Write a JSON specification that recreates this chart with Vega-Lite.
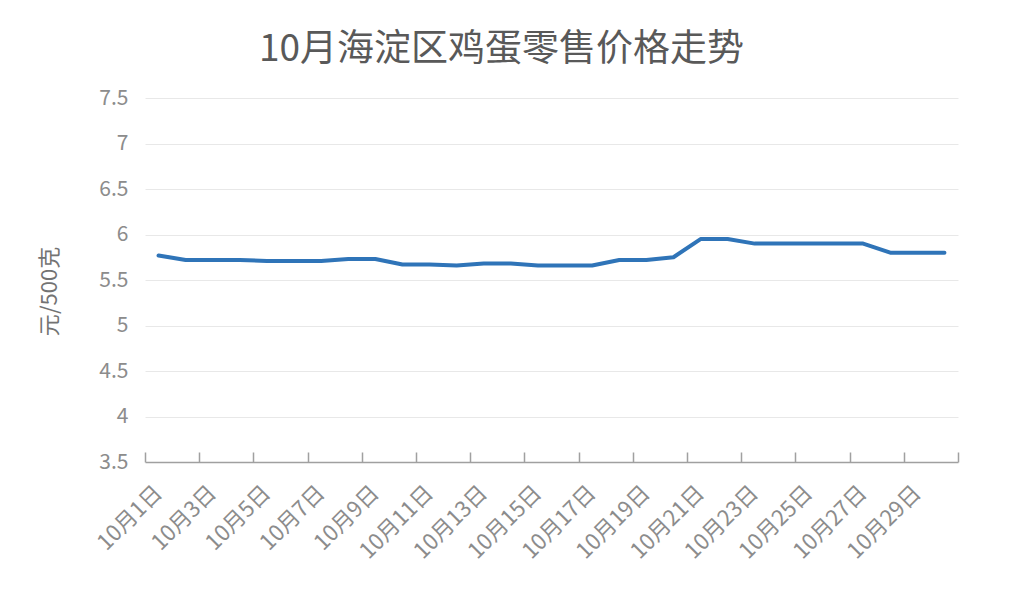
{
  "$schema": "https://vega.github.io/schema/vega-lite/v6.json",
  "autosize": "none",
  "width": 813,
  "height": 364,
  "padding": {"left": 145, "top": 98, "right": 57, "bottom": 131},
  "background": "white",
  "config": {
    "font": "Noto Sans CJK SC",
    "view": {"stroke": null}
  },
  "title": {
    "text": "10月海淀区鸡蛋零售价格走势",
    "fontSize": 37,
    "fontWeight": "normal",
    "color": "#595959",
    "anchor": "middle",
    "baseline": "middle",
    "dx": -50,
    "offset": 0
  },
  "data": {
    "values": [
      {"day": 1, "price": 5.77},
      {"day": 2, "price": 5.72},
      {"day": 3, "price": 5.72},
      {"day": 4, "price": 5.72},
      {"day": 5, "price": 5.71},
      {"day": 6, "price": 5.71},
      {"day": 7, "price": 5.71},
      {"day": 8, "price": 5.73},
      {"day": 9, "price": 5.73},
      {"day": 10, "price": 5.67},
      {"day": 11, "price": 5.67},
      {"day": 12, "price": 5.66},
      {"day": 13, "price": 5.68},
      {"day": 14, "price": 5.68},
      {"day": 15, "price": 5.66},
      {"day": 16, "price": 5.66},
      {"day": 17, "price": 5.66},
      {"day": 18, "price": 5.72},
      {"day": 19, "price": 5.72},
      {"day": 20, "price": 5.75},
      {"day": 21, "price": 5.95},
      {"day": 22, "price": 5.95},
      {"day": 23, "price": 5.9},
      {"day": 24, "price": 5.9},
      {"day": 25, "price": 5.9},
      {"day": 26, "price": 5.9},
      {"day": 27, "price": 5.9},
      {"day": 28, "price": 5.8},
      {"day": 29, "price": 5.8},
      {"day": 30, "price": 5.8}
    ]
  },
  "mark": {"type": "line", "color": "#2f74b8", "strokeWidth": 4, "strokeJoin": "round", "strokeCap": "round"},
  "encoding": {
    "x": {
      "field": "day",
      "type": "quantitative",
      "scale": {"domain": [0.5, 30.5], "nice": false, "zero": false},
      "axis": {
        "title": null,
        "values": [0.5, 2.5, 4.5, 6.5, 8.5, 10.5, 12.5, 14.5, 16.5, 18.5, 20.5, 22.5, 24.5, 26.5, 28.5, 30.5],
        "labelExpr": "datum.value < 30 ? '10月' + (datum.value + 0.5) + '日' : ''",
        "labelAngle": -45,
        "labelAlign": "right",
        "labelBaseline": "middle",
        "labelOffset": 13,
        "labelFontSize": 22,
        "labelColor": "#8c8c8c",
        "labelPadding": 27,
        "labelOverlap": false,
        "labelBound": false,
        "labelFlush": false,
        "ticks": false,
        "tickSize": 0,
        "grid": true,
        "gridDash": [0, 354, 10, 2000],
        "gridColor": "#a0a0a0",
        "gridWidth": 1.5,
        "domainColor": "#a0a0a0",
        "domainWidth": 1.5
      }
    },
    "y": {
      "field": "price",
      "type": "quantitative",
      "scale": {"domain": [3.5, 7.5], "nice": false, "zero": false},
      "axis": {
        "title": "元/500克",
        "titleFontSize": 22,
        "titleFontWeight": "normal",
        "titleColor": "#737373",
        "titleX": -84,
        "titleY": 193,
        "values": [3.5, 4, 4.5, 5, 5.5, 6, 6.5, 7, 7.5],
        "format": "~g",
        "labelFontSize": 21,
        "labelColor": "#8c8c8c",
        "labelPadding": 17,
        "ticks": false,
        "domain": false,
        "grid": true,
        "gridColor": "#e8e8e8",
        "gridWidth": 1
      }
    }
  }
}
